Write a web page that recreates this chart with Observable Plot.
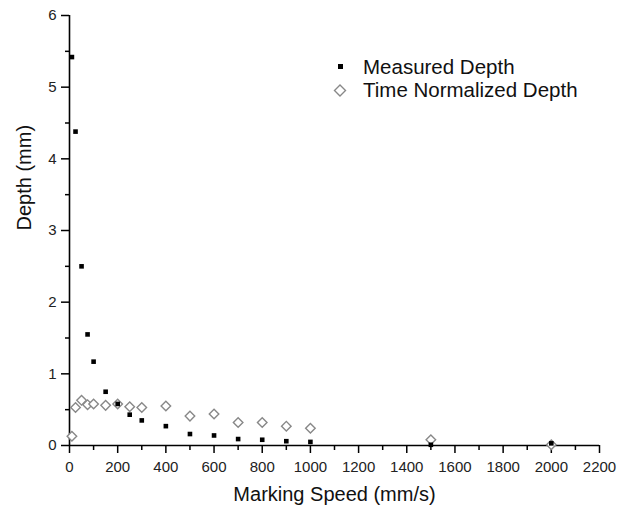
<!DOCTYPE html>
<html><head><meta charset="utf-8">
<script src="https://cdn.jsdelivr.net/npm/d3@7"></script>
<script src="https://cdn.jsdelivr.net/npm/@observablehq/plot@0.6"></script>
<style>
body{margin:0;background:#fff;}
#wrap{position:relative;width:630px;height:512px;font-family:'Liberation Sans',Arial,sans-serif;}
.leg{position:absolute;left:330px;font-size:20.5px;color:#111;line-height:22px;}
.leg div{position:relative;height:23px;white-space:nowrap;}
.leg svg{position:absolute;left:0;top:0;}
.leg span{position:absolute;left:33px;top:0;}
</style>
</head><body><div id="wrap"></div>
<script>
const speed = [10, 25, 50, 75, 100, 150, 200, 250, 300, 400, 500, 600, 700, 800, 900, 1000, 1500, 2000];
const measuredDepth = [5.42, 4.38, 2.50, 1.55, 1.17, 0.75, 0.58, 0.43, 0.35, 0.27, 0.16, 0.14, 0.09, 0.08, 0.06, 0.05, 0.01, 0.03];
const normalizedDepth = [0.13, 0.53, 0.63, 0.57, 0.58, 0.56, 0.58, 0.54, 0.53, 0.55, 0.41, 0.44, 0.32, 0.32, 0.27, 0.24, 0.08, 0.01];
const xMajor = [0, 200, 400, 600, 800, 1000, 1200, 1400, 1600, 1800, 2000, 2200];
const xMinor = [100, 300, 500, 700, 900, 1100, 1300, 1500, 1700, 1900, 2100];
const yMajor = [0, 1, 2, 3, 4, 5, 6];
const yMinor = [0.5, 1.5, 2.5, 3.5, 4.5, 5.5];
const seriesNames = ["Measured Depth", "Time Normalized Depth"];
const xTitle = "Marking Speed (mm/s)";
const yTitle = "Depth (mm)";

const measured = speed.map((s, i) => ({speed: s, depth: measuredDepth[i]}));
const normalized = speed.map((s, i) => ({speed: s, depth: normalizedDepth[i]}));

const plot = Plot.plot({
  width: 630, height: 512,
  marginLeft: 69, marginRight: 31, marginTop: 15, marginBottom: 67,
  style: {fontFamily: "'Liberation Sans', Arial, sans-serif", fontSize: "15px", color: "#222", background: "#fff", overflow: "visible"},
  x: {domain: [0, 2200]},
  y: {domain: [0, 6]},
  marks: [
    Plot.axisX({ticks: xMinor, tickSize: 5, tickFormat: () => "", label: null, strokeWidth: 1.5, stroke: "#000"}),
    Plot.axisX({ticks: xMajor, tickSize: 8, tickPadding: 8, tickFormat: d => String(d), label: null, strokeWidth: 1.5, stroke: "#000", fill: "#222"}),
    Plot.axisY({ticks: yMinor, tickSize: 4, tickFormat: () => "", label: null, strokeWidth: 1.5, stroke: "#000"}),
    Plot.axisY({ticks: yMajor, tickSize: 8, tickPadding: 5, tickFormat: d => String(d), label: null, strokeWidth: 1.5, stroke: "#000", fill: "#222"}),
    Plot.ruleY([0], {stroke: "#000", strokeWidth: 1.6}),
    Plot.ruleX([0], {stroke: "#000", strokeWidth: 1.6}),
    Plot.dot(normalized, {x: "speed", y: "depth", symbol: "diamond2", r: 4.3, fill: "#fff", stroke: "#888", strokeWidth: 1.4}),
    Plot.dot(measured, {x: "speed", y: "depth", symbol: "square", r: 2.6, fill: "#000", stroke: null}),
    Plot.text([xTitle], {frameAnchor: "bottom", dy: 55, fontSize: 20, fill: "#111"}),
    Plot.text([yTitle], {frameAnchor: "left", dx: -45, rotate: -90, fontSize: 20, fill: "#111"})
  ]
});
const wrap = document.getElementById("wrap");
wrap.appendChild(plot);

const leg = document.createElement("div");
leg.className = "leg";
leg.style.top = "56px";
leg.innerHTML =
  `<div><svg width="24" height="23"><rect x="8" y="8" width="5" height="5" fill="#000"/></svg><span>${seriesNames[0]}</span></div>` +
  `<div><svg width="24" height="23"><path d="M4.5,11.5 L10,6 L15.5,11.5 L10,17 Z" fill="#fff" stroke="#888" stroke-width="1.4"/></svg><span>${seriesNames[1]}</span></div>`;
wrap.appendChild(leg);
</script>
</body></html>
